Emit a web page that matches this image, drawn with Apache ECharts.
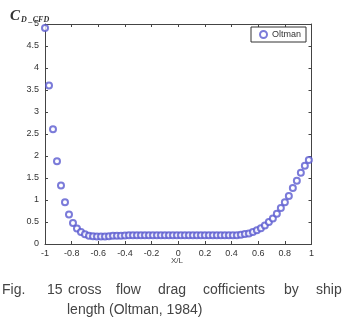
<!DOCTYPE html>
<html><head><meta charset="utf-8">
<script src="https://cdn.jsdelivr.net/npm/echarts@6/dist/echarts.min.js"></script>
<style>html,body{margin:0;padding:0;background:#fff}#c{width:344px;height:318px}</style>
</head><body><div id="c"></div>
<script>
const xPos = [-1,-0.97,-0.94,-0.91,-0.88,-0.85,-0.82,-0.79,-0.76,-0.73,-0.70,-0.67,-0.64,-0.61,-0.58,-0.55,-0.52,-0.49,-0.46,-0.43,-0.40,-0.37,-0.34,-0.31,-0.28,-0.25,-0.22,-0.19,-0.16,-0.13,-0.10,-0.07,-0.04,-0.01,0.02,0.05,0.08,0.11,0.14,0.17,0.20,0.23,0.26,0.29,0.32,0.35,0.38,0.41,0.44,0.47,0.50,0.53,0.56,0.59,0.62,0.65,0.68,0.71,0.74,0.77,0.80,0.83,0.86,0.89,0.92,0.95,0.98];
const cdValues = [4.91,3.60,2.61,1.88,1.33,0.95,0.67,0.48,0.35,0.27,0.22,0.19,0.175,0.17,0.17,0.17,0.175,0.185,0.19,0.19,0.195,0.2,0.2,0.2,0.2,0.2,0.2,0.2,0.2,0.2,0.2,0.2,0.2,0.2,0.2,0.2,0.2,0.2,0.2,0.2,0.2,0.2,0.2,0.2,0.2,0.2,0.2,0.2,0.2,0.21,0.23,0.24,0.27,0.31,0.36,0.42,0.50,0.58,0.69,0.82,0.95,1.09,1.27,1.44,1.62,1.78,1.91];
const seriesName = 'Oltman';
const xTitle = 'X/L';
const captionLine1 = ['Fig.','15','cross','flow','drag','cofficients','by','ship'];
const captionLine1X = [2,47,68,116,158,203,284,316];
const captionLine2 = 'length (Oltman, 1984)';

const chart = echarts.init(document.getElementById('c'));
const pts = xPos.map((x,i)=>[x,cdValues[i]]);
const axLine = {show:true, onZero:false, lineStyle:{color:'#444', width:1}};
const tick = {show:true, inside:true, length:3, lineStyle:{color:'#444'}};
const lbl = {color:'#333', fontSize:9, fontFamily:'Liberation Sans, Arial, sans-serif'};
const capFont = {fontSize:14, fontFamily:'Liberation Sans, Arial, sans-serif', fill:'#444'};
const graphics = captionLine1.map((w,i)=>({type:'text', left:captionLine1X[i], top:283, style:Object.assign({text:w}, capFont)}));
graphics.push({type:'text', left:67, top:303, style:Object.assign({text:captionLine2}, capFont)});
graphics.push({type:'text', left:171, top:257, style:{text:xTitle, fontSize:8, fontFamily:'Liberation Sans, Arial, sans-serif', fill:'#444'}});
chart.setOption({
  animation:false,
  title:{left:5, top:4, text:'{c|C}{s|D _CFD}', textStyle:{rich:{
    c:{fontSize:15, fontStyle:'italic', fontFamily:'Liberation Serif, Times New Roman, serif', color:'#333'},
    s:{fontSize:8, fontStyle:'italic', fontFamily:'Liberation Serif, Times New Roman, serif', color:'#333', padding:[7,0,0,1]}}}},
  grid:{left:45, right:32.5, top:24, bottom:74},
  legend:{data:[{name:seriesName, icon:'emptyCircle'}], left:251, top:27, itemWidth:7, itemHeight:7, itemGap:6,
    padding:[3,5,3,8], borderColor:'#333', borderWidth:1, backgroundColor:'#fff',
    textStyle:{fontSize:9, color:'#333', fontFamily:'Liberation Sans, Arial, sans-serif', padding:[0,0,0,0]}},
  xAxis:[
    {type:'value', min:-1, max:1, interval:0.2, position:'bottom', axisLine:axLine, axisTick:tick, splitLine:{show:false}, axisLabel:Object.assign({margin:5},lbl)},
    {type:'value', min:-1, max:1, interval:0.2, position:'top', axisLine:axLine, axisTick:tick, splitLine:{show:false}, axisLabel:{show:false}}
  ],
  yAxis:[
    {type:'value', min:0, max:5, interval:0.5, position:'left', axisLine:axLine, axisTick:tick, splitLine:{show:false}, axisLabel:Object.assign({margin:6},lbl)},
    {type:'value', min:0, max:5, interval:0.5, position:'right', axisLine:axLine, axisTick:tick, splitLine:{show:false}, axisLabel:{show:false}}
  ],
  series:[{name:seriesName, type:'scatter', data:pts, symbol:'emptyCircle', symbolSize:6,
    itemStyle:{color:'#5a5ad0', borderColor:'#5a5ad0', borderWidth:1.1}}],
  graphic:graphics
});
</script></body></html>
